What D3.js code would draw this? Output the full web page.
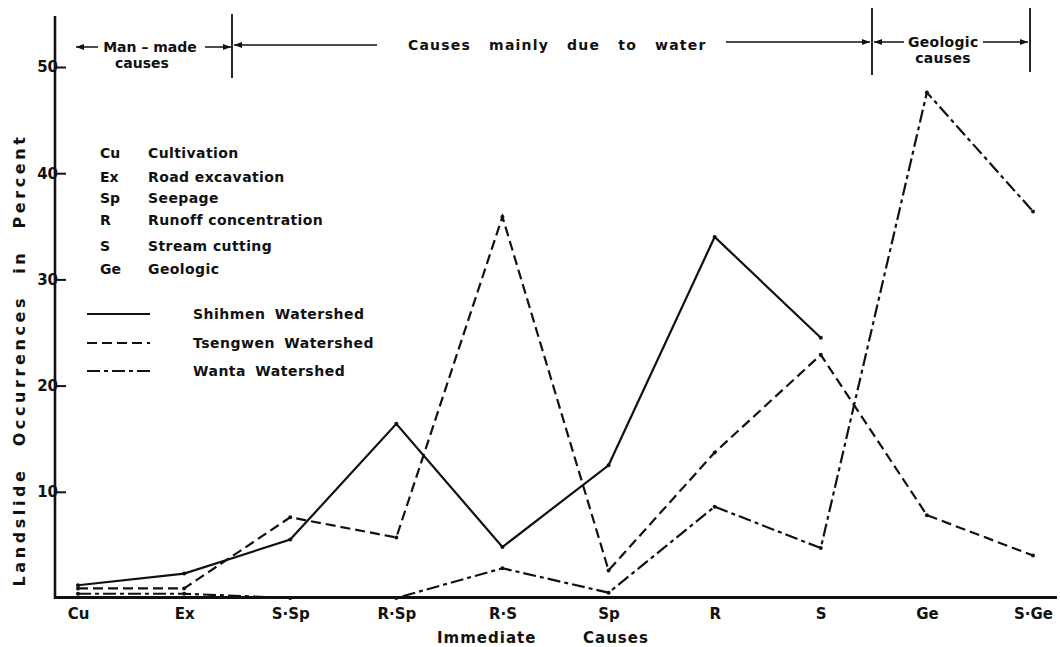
<!DOCTYPE html>
<html>
<head>
<meta charset="utf-8">
<script src="https://cdn.jsdelivr.net/npm/d3@7"></script>
<style>
  body { margin: 0; background: #fff; }
  svg text { font-family: "DejaVu Sans", sans-serif; fill: #111; }
</style>
</head>
<body>
<div id="chart"></div>
<script>
// immediate causes along the x axis
var categories = ['Cu', 'Ex', 'S·Sp', 'R·Sp', 'R·S', 'Sp', 'R', 'S', 'Ge', 'S·Ge'];

// landslide occurrences in percent
var shihmen  = [1.2, 2.3, 5.5, 16.4, 4.8, 12.5, 34.0, 24.5, null, null];
var tsengwen = [0.9, 0.9, 7.6, 5.7, 35.9, 2.6, 13.7, 22.9, 7.8, 4.0];
var wanta    = [0.4, 0.4, 0, 0, 2.8, 0.5, 8.6, 4.7, 47.6, 36.4];

var yTicks = [10, 20, 30, 40, 50];

var abbrevs = [
  ['Cu', 'Cultivation'],
  ['Ex', 'Road excavation'],
  ['Sp', 'Seepage'],
  ['R', 'Runoff concentration'],
  ['S', 'Stream cutting'],
  ['Ge', 'Geologic']
];

var seriesNames = ['Shihmen Watershed', 'Tsengwen Watershed', 'Wanta Watershed'];

(function() {
  var series = [
    { name: seriesNames[0], values: shihmen, dash: null },
    { name: seriesNames[1], values: tsengwen, dash: '10,5' },
    { name: seriesNames[2], values: wanta, dash: '13,4,4,4' }
  ];

  var width = 1060, height = 647;

  var svg = d3.select('#chart').append('svg')
    .attr('width', width).attr('height', height);

  svg.append('rect').attr('width', width).attr('height', height).attr('fill', '#fff');

  var x = d3.scalePoint().domain(categories).range([78, 1033]);
  var y = d3.scaleLinear().domain([0, 50]).range([598, 67]);

  // axes
  svg.append('line').attr('x1', 55).attr('x2', 55).attr('y1', 16).attr('y2', 599)
    .attr('stroke', '#111').attr('stroke-width', 2.6);
  svg.append('line').attr('x1', 54).attr('x2', 1057).attr('y1', 597.5).attr('y2', 597.5)
    .attr('stroke', '#111').attr('stroke-width', 3);

  var yAxis = svg.append('g').attr('transform', 'translate(55,0)')
    .call(d3.axisLeft(y).tickValues(yTicks).tickSizeInner(-11).tickSizeOuter(0).tickPadding(-3));
  yAxis.select('.domain').remove();
  yAxis.selectAll('line').attr('stroke', '#111').attr('stroke-width', 2);
  yAxis.selectAll('text').attr('font-size', 15).attr('font-weight', 'bold').attr('fill', '#111')
    .style('font-family', '"DejaVu Sans", sans-serif');

  var xAxis = svg.append('g').attr('transform', 'translate(0,598)')
    .call(d3.axisBottom(x).tickSize(0).tickPadding(10));
  xAxis.select('.domain').remove();
  xAxis.selectAll('text').attr('font-size', 15).attr('font-weight', 'bold').attr('fill', '#111')
    .style('font-family', '"DejaVu Sans", sans-serif');

  svg.append('text').attr('x', 437).attr('y', 643).attr('font-size', 15).attr('font-weight', 'bold')
    .attr('letter-spacing', 1).text('Immediate');
  svg.append('text').attr('x', 583).attr('y', 643).attr('font-size', 15).attr('font-weight', 'bold')
    .attr('letter-spacing', 1).text('Causes');

  svg.append('text')
    .attr('transform', 'translate(25,360) rotate(-90)')
    .attr('text-anchor', 'middle').attr('font-size', 16).attr('font-weight', 'bold')
    .attr('letter-spacing', 3.6).attr('word-spacing', 12)
    .text('Landslide Occurrences in Percent');

  // lines
  var line = d3.line()
    .defined(function(d) { return d != null; })
    .x(function(d, i) { return x(categories[i]); })
    .y(function(d) { return y(d); });

  series.forEach(function(s) {
    svg.append('path').datum(s.values)
      .attr('d', line)
      .attr('fill', 'none').attr('stroke', '#111').attr('stroke-width', 2.2)
      .attr('stroke-dasharray', s.dash);
    svg.selectAll(null).data(s.values.map(function(v, i) { return { v: v, c: categories[i] }; })
        .filter(function(d) { return d.v != null; }))
      .enter().append('circle')
      .attr('cx', function(d) { return x(d.c); })
      .attr('cy', function(d) { return y(d.v); })
      .attr('r', 2).attr('fill', '#111');
  });

  // abbreviations
  var ab = svg.append('g').attr('font-size', 14).attr('font-weight', 'bold');
  abbrevs.forEach(function(a, i) {
    var yy = [158, 182, 203, 225, 251, 274][i];
    ab.append('text').attr('x', 100).attr('y', yy).text(a[0]);
    ab.append('text').attr('x', 148).attr('y', yy).attr('letter-spacing', 0.4).text(a[1]);
  });

  // series legend
  series.forEach(function(s, i) {
    var yy = [314, 343, 371][i];
    svg.append('line').attr('x1', 87).attr('x2', 150).attr('y1', yy).attr('y2', yy)
      .attr('stroke', '#111').attr('stroke-width', 2).attr('stroke-dasharray', s.dash);
    svg.append('text').attr('x', 193).attr('y', yy + 5).attr('font-size', 14).attr('font-weight', 'bold')
      .attr('letter-spacing', 0.5).attr('word-spacing', 4).text(s.name);
  });

  // cause groups at the top
  var defs = svg.append('defs');
  defs.append('marker').attr('id', 'arr').attr('viewBox', '0 0 8 6')
    .attr('refX', 8).attr('refY', 3).attr('markerWidth', 8).attr('markerHeight', 6)
    .attr('markerUnits', 'userSpaceOnUse').attr('orient', 'auto')
    .append('path').attr('d', 'M0,0 L8,3 L0,6 Z').attr('fill', '#111');

  var arrows = [[98, 47, 76], [205, 47, 231], [377, 45, 234], [726, 42, 870], [904, 42, 874], [983, 42, 1028]];
  arrows.forEach(function(a) {
    svg.append('line').attr('x1', a[0]).attr('x2', a[2]).attr('y1', a[1]).attr('y2', a[1])
      .attr('stroke', '#111').attr('stroke-width', 1.5).attr('marker-end', 'url(#arr)');
  });

  [[232, 14, 78], [872, 8, 75], [1030, 8, 72]].forEach(function(v) {
    svg.append('line').attr('x1', v[0]).attr('x2', v[0]).attr('y1', v[1]).attr('y2', v[2])
      .attr('stroke', '#111').attr('stroke-width', 1.8);
  });

  var heads = svg.append('g').attr('font-size', 14).attr('font-weight', 'bold');
  heads.append('text').attr('x', 150).attr('y', 52).attr('text-anchor', 'middle').text('Man – made');
  heads.append('text').attr('x', 142).attr('y', 68).attr('text-anchor', 'middle').text('causes');
  heads.append('text').attr('x', 408).attr('y', 50).attr('word-spacing', 12).attr('letter-spacing', 1.2)
    .text('Causes mainly due to water');
  heads.append('text').attr('x', 908).attr('y', 47).attr('letter-spacing', 0.3).text('Geologic');
  heads.append('text').attr('x', 943).attr('y', 63).attr('text-anchor', 'middle').attr('letter-spacing', 0.3).text('causes');
})();
</script>
</body>
</html>
